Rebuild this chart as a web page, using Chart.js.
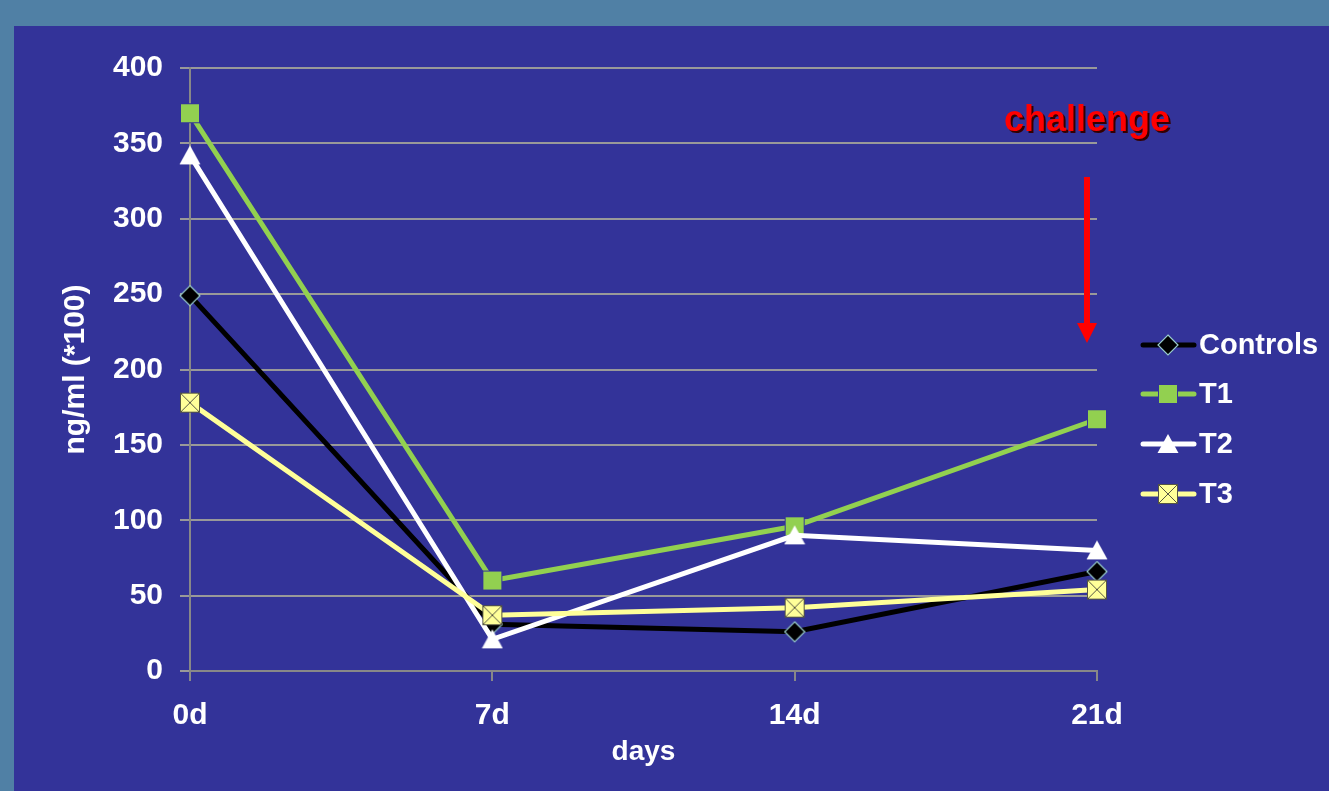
<!DOCTYPE html>
<html>
<head>
<meta charset="utf-8">
<script src="https://cdn.jsdelivr.net/npm/chart.js@4/dist/chart.umd.min.js"></script>
<style>
  html, body { margin: 0; padding: 0; }
  body { width: 1329px; height: 791px; background: #5080a5; position: relative; overflow: hidden; }
  #panel { position: absolute; left: 14px; top: 26px; width: 1315px; height: 765px; background: #333399; }
  #wrap { position: absolute; left: 0; top: 0; width: 1329px; height: 791px; }
</style>
</head>
<body>
<div id="panel"></div>
<div id="wrap"><canvas id="myChart" width="1329" height="791"></canvas></div>
<script>
// 値はグラフから読み取り
var days = ["0d", "7d", "14d", "21d"];
var controls = [249, 31, 26, 66];
var t1 = [370, 60, 96, 167];
var t2 = [342, 21, 90, 80];
var t3 = [178, 37, 42, 54];
var yTicks = [0, 50, 100, 150, 200, 250, 300, 350, 400];

var FONT = "'Liberation Sans', Arial, sans-serif";

// マーカー画像
function makeMarker(kind) {
  var c = document.createElement("canvas");
  c.width = 22; c.height = 22;
  var g = c.getContext("2d");
  if (kind == "diamond") {
    g.beginPath();
    g.moveTo(11, 1); g.lineTo(21, 11); g.lineTo(11, 21); g.lineTo(1, 11); g.closePath();
    g.fillStyle = "#000"; g.fill();
    g.strokeStyle = "#99cccc"; g.lineWidth = 1.2; g.stroke();
  } else if (kind == "square") {
    g.fillStyle = "#92d050"; g.fillRect(1, 1, 20, 20);
    g.strokeStyle = "#333399"; g.lineWidth = 1; g.strokeRect(1.5, 1.5, 19, 19);
  } else if (kind == "triangle") {
    g.beginPath();
    g.moveTo(11, 1); g.lineTo(21.5, 20); g.lineTo(0.5, 20); g.closePath();
    g.fillStyle = "#fff"; g.fill();
  } else {
    g.fillStyle = "#ffff99"; g.fillRect(1, 1, 20, 20);
    g.strokeStyle = "#555544"; g.lineWidth = 1;
    g.strokeRect(1.5, 1.5, 19, 19);
    g.beginPath();
    g.moveTo(2, 2); g.lineTo(20, 20); g.moveTo(20, 2); g.lineTo(2, 20);
    g.stroke();
  }
  return c;
}

function series(label, data, color, marker, order) {
  return {
    label: label,
    data: data,
    borderColor: color,
    backgroundColor: color,
    borderWidth: 5,
    tension: 0,
    pointStyle: makeMarker(marker),
    pointRadius: 11,
    order: order
  };
}

var legendPlugin = {
  id: "sideLegend",
  afterDraw: function(chart) {
    var ctx = chart.ctx;
    var ys = [345, 394, 444, 494];
    ctx.save();
    chart.data.datasets.forEach(function(ds, n) {
      var y = ys[n];
      ctx.strokeStyle = ds.borderColor;
      ctx.lineWidth = 5;
      ctx.lineCap = "round";
      ctx.beginPath();
      ctx.moveTo(1143, y); ctx.lineTo(1194, y);
      ctx.stroke();
      var img = ds.pointStyle;
      ctx.drawImage(img, 1168 - img.width / 2, y - img.height / 2);
      ctx.fillStyle = "#fff";
      ctx.font = "bold 29px " + FONT;
      ctx.textBaseline = "middle";
      ctx.textAlign = "left";
      ctx.fillText(ds.label, 1199, y + 1);
    });
    ctx.restore();
  }
};

var challengePlugin = {
  id: "challenge",
  afterDraw: function(chart) {
    var ctx = chart.ctx;
    var x = chart.scales.x.getPixelForValue(3) - 10;
    ctx.save();
    ctx.font = "bold 36px " + FONT;
    ctx.textAlign = "center";
    ctx.textBaseline = "middle";
    ctx.fillStyle = "#330000";
    ctx.fillText("challenge", x + 2, 123);
    ctx.fillStyle = "#ff0000";
    ctx.fillText("challenge", x, 121);
    // 矢印
    ctx.fillStyle = "#ff0000";
    ctx.fillRect(x - 3, 177, 6, 148);
    ctx.beginPath();
    ctx.moveTo(x - 10, 323); ctx.lineTo(x + 10, 323); ctx.lineTo(x, 343); ctx.closePath();
    ctx.fill();
    ctx.restore();
  }
};

var ctx = document.getElementById("myChart").getContext("2d");
var chart = new Chart(ctx, {
  type: "line",
  data: {
    labels: days,
    datasets: [
      series("Controls", controls, "#000000", "diamond", 4),
      series("T1", t1, "#92d050", "square", 3),
      series("T2", t2, "#ffffff", "triangle", 2),
      series("T3", t3, "#ffff99", "xbox", 1)
    ]
  },
  options: {
    responsive: false,
    animation: false,
    layout: { padding: { left: 14, right: 232, top: 68, bottom: 0 } },
    plugins: { legend: { display: false }, tooltip: { enabled: false } },
    scales: {
      x: {
        offset: false,
        grid: { drawOnChartArea: false, color: "#888888", lineWidth: 2, tickLength: 10 },
        border: { color: "#888888", width: 2 },
        ticks: { color: "#fff", font: { family: FONT, size: 30, weight: "bold" }, padding: 17, maxRotation: 0 },
        title: { display: true, text: "days", color: "#fff", font: { family: FONT, size: 28, weight: "bold" }, padding: { top: 0, bottom: 22 } },
        afterFit: function(s) { s.height = 120; }
      },
      y: {
        min: 0,
        max: 400,
        afterBuildTicks: function(s) { s.ticks = yTicks.map(function(v) { return { value: v }; }); },
        grid: { color: "#999999", lineWidth: 2, tickLength: 10 },
        border: { color: "#888888", width: 2 },
        ticks: { color: "#fff", font: { family: FONT, size: 30, weight: "bold" }, padding: 17 },
        title: { display: true, text: "ng/ml (*100)", color: "#fff", font: { family: FONT, size: 30, weight: "bold" }, padding: { top: 44, bottom: 0 } },
        afterFit: function(s) { s.width = 176; }
      }
    }
  },
  plugins: [legendPlugin, challengePlugin]
});
</script>
</body>
</html>
